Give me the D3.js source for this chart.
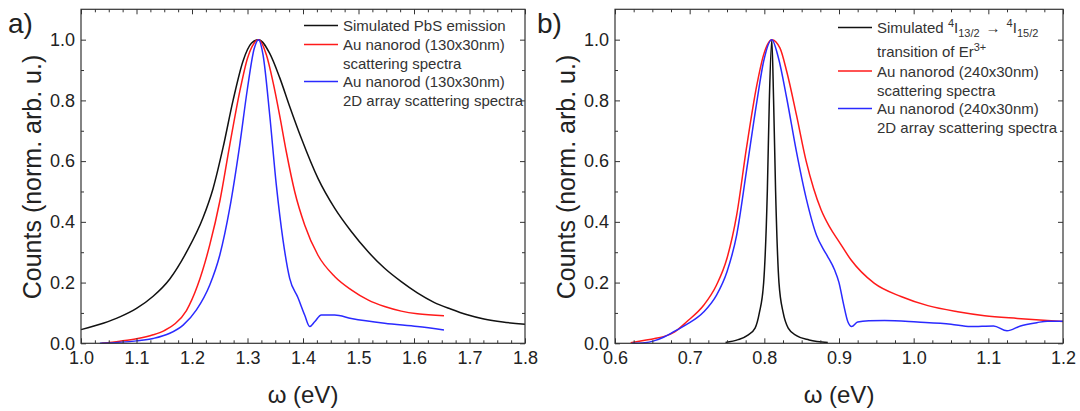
<!DOCTYPE html>
<html>
<head>
<meta charset="utf-8">
<script src="https://cdnjs.cloudflare.com/ajax/libs/d3/7.8.5/d3.min.js"></script>
<style>
	body { margin: 0; background: #fff; }
	svg { font-family: "Liberation Sans", Arial, sans-serif; }
	.axis path { display: none; }
	.axis line { stroke: #333; stroke-width: 1; }
	.axis text { font-size: 18px; fill: #222; }
	.legend text { font-size: 15px; fill: #333; }
</style>
</head>
<body>
<div id="container"></div>
<script>
// ---- panel a) : PbS emission vs 130x30nm rods ----
var pbsEmission = [[1.00,0.045],[1.04,0.066],[1.07,0.087],[1.10,0.115],[1.13,0.155],[1.16,0.212],
	[1.19,0.3],[1.22,0.414],[1.238,0.51],[1.256,0.645],[1.274,0.8],[1.292,0.93],[1.307,0.988],
	[1.32,1.0],[1.34,0.955],[1.358,0.875],[1.376,0.78],[1.397,0.675],[1.427,0.543],[1.457,0.445],
	[1.487,0.368],[1.517,0.302],[1.547,0.247],[1.577,0.203],[1.606,0.166],[1.636,0.135],[1.666,0.113],
	[1.696,0.094],[1.726,0.08],[1.76,0.07],[1.80,0.063]];
var rod130 = [[1.037,0.0],[1.07,0.007],[1.10,0.015],[1.13,0.028],[1.15,0.042],[1.17,0.065],[1.19,0.108],
	[1.21,0.19],[1.232,0.324],[1.25,0.467],[1.268,0.653],[1.286,0.829],[1.30,0.939],[1.316,0.997],
	[1.32,1.0],[1.334,0.95],[1.346,0.86],[1.358,0.75],[1.37,0.63],[1.385,0.5],[1.403,0.39],[1.427,0.29],
	[1.457,0.22],[1.487,0.176],[1.517,0.143],[1.547,0.121],[1.577,0.106],[1.606,0.097],[1.654,0.091]];
var rod130Array = [[1.034,0.0],[1.10,0.008],[1.13,0.016],[1.16,0.033],[1.184,0.06],[1.208,0.11],
	[1.232,0.192],[1.25,0.29],[1.268,0.445],[1.286,0.653],[1.30,0.84],[1.312,0.97],[1.32,1.0],
	[1.328,0.95],[1.34,0.752],[1.352,0.52],[1.364,0.34],[1.376,0.214],[1.391,0.15],[1.403,0.093],
	[1.412,0.055],[1.421,0.071],[1.433,0.093],[1.457,0.093],[1.487,0.082],[1.547,0.066],[1.606,0.055],
	[1.654,0.044]];

// ---- panel b) : Er3+ transition vs 240x30nm rods ----
var erEmission = [[0.748,0.003],[0.765,0.012],[0.778,0.027],[0.7876,0.05],[0.7933,0.1],[0.7991,0.2],
	[0.804,0.5],[0.8067,0.8],[0.81,1.0],[0.8124,0.8],[0.8151,0.5],[0.8196,0.2],[0.8253,0.1],[0.832,0.05],
	[0.843,0.025],[0.86,0.011],[0.885,0.003]];
var rod240 = [[0.621,0.002],[0.64,0.01],[0.652,0.015],[0.665,0.022],[0.68,0.038],[0.696,0.071],
	[0.719,0.126],[0.736,0.192],[0.75,0.28],[0.763,0.423],[0.776,0.642],[0.79,0.851],[0.799,0.95],
	[0.81,1.0],[0.821,0.972],[0.83,0.895],[0.843,0.752],[0.856,0.6],[0.866,0.51],[0.876,0.44],
	[0.887,0.385],[0.9,0.335],[0.916,0.275],[0.947,0.198],[0.983,0.154],[1.019,0.124],[1.059,0.104],
	[1.095,0.091],[1.139,0.082],[1.179,0.075],[1.2,0.072]];
var rod240Array = [[0.623,0.0],[0.64,0.002],[0.652,0.008],[0.665,0.02],[0.68,0.04],[0.696,0.062],
	[0.719,0.104],[0.736,0.159],[0.75,0.236],[0.763,0.357],[0.776,0.566],[0.79,0.796],[0.799,0.928],
	[0.81,1.0],[0.819,0.939],[0.83,0.807],[0.843,0.631],[0.856,0.478],[0.87,0.355],[0.879,0.31],
	[0.885,0.285],[0.894,0.242],[0.9,0.2],[0.906,0.13],[0.912,0.07],[0.917,0.055],[0.925,0.07],
	[0.94,0.074],[0.961,0.075],[1.005,0.07],[1.05,0.063],[1.076,0.055],[1.107,0.057],[1.125,0.041],
	[1.143,0.057],[1.165,0.068],[1.179,0.073],[1.2,0.073]];

// ticks
var xTicksA = [1.0,1.1,1.2,1.3,1.4,1.5,1.6,1.7,1.8];
var xTicksB = [0.6,0.7,0.8,0.9,1.0,1.1,1.2];
var yTicks = [0.0,0.2,0.4,0.6,0.8,1.0];
var yMinor = [0.1,0.3,0.5,0.7,0.9];

var plotTop = 9.3, plotH = 334;

var svg = d3.select("#container").append("svg")
	.attr("width", 1080)
	.attr("height", 411);

// minor x ticks every 0.025 (skipping the labelled ones)
function minorTicks(domain){
	var out = [];
	for (var v = domain[0]; v <= domain[1] + 1e-9; v += 0.025) {
		var r = Math.round(v * 1000) / 1000;
		if (Math.abs(r * 10 - Math.round(r * 10)) > 1e-6) out.push(r);
	}
	return out;
}

function drawPanel(cfg){
	var g = svg.append("g").attr("transform", "translate(" + cfg.left + "," + plotTop + ")");

	var x = d3.scaleLinear().domain(cfg.xDomain).range([0, cfg.width]);
	var y = d3.scaleLinear().domain([0, 1.1]).range([plotH, 0]);

	var line = d3.line()
		.x(function(d){ return x(d[0]); })
		.y(function(d){ return y(d[1]); })
		.curve(d3.curveMonotoneX);

	cfg.series.forEach(function(s){
		g.append("path")
			.datum(s.data)
			.attr("d", line)
			.attr("fill", "none")
			.attr("stroke", s.color)
			.attr("stroke-width", 1.5);
	});

	var xMinor = minorTicks(cfg.xDomain);
	var fmt = d3.format(".1f");

	// bottom
	g.append("g").attr("class", "axis").attr("transform", "translate(0," + plotH + ")")
		.call(d3.axisBottom(x).tickValues(cfg.xTicks).tickSize(-5).tickPadding(8).tickFormat(fmt));
	g.append("g").attr("class", "axis").attr("transform", "translate(0," + plotH + ")")
		.call(d3.axisBottom(x).tickValues(xMinor).tickSize(-3).tickFormat(""));
	// top
	g.append("g").attr("class", "axis")
		.call(d3.axisTop(x).tickValues(cfg.xTicks).tickSize(-5).tickFormat(""));
	g.append("g").attr("class", "axis")
		.call(d3.axisTop(x).tickValues(xMinor).tickSize(-3).tickFormat(""));
	// left
	g.append("g").attr("class", "axis")
		.call(d3.axisLeft(y).tickValues(yTicks).tickSize(-5).tickPadding(6).tickFormat(fmt));
	g.append("g").attr("class", "axis")
		.call(d3.axisLeft(y).tickValues(yMinor).tickSize(-3).tickFormat(""));
	// right
	g.append("g").attr("class", "axis").attr("transform", "translate(" + cfg.width + ",0)")
		.call(d3.axisRight(y).tickValues(yTicks).tickSize(-5).tickFormat(""));
	g.append("g").attr("class", "axis").attr("transform", "translate(" + cfg.width + ",0)")
		.call(d3.axisRight(y).tickValues(yMinor).tickSize(-3).tickFormat(""));

	// frame
	g.append("rect")
		.attr("width", cfg.width).attr("height", plotH)
		.attr("fill", "none").attr("stroke", "#333").attr("stroke-width", 1.2);

	// axis titles
	g.append("text")
		.attr("x", cfg.width / 2).attr("y", 403 - plotTop)
		.attr("text-anchor", "middle")
		.style("font-size", "24px").style("fill", "#222")
		.text("\u03c9 (eV)");
	g.append("text")
		.attr("transform", "translate(-40," + (177 - plotTop) + ") rotate(-90)")
		.attr("text-anchor", "middle")
		.style("font-size", "25px").style("fill", "#222")
		.text("Counts (norm. arb. u.)");

	// panel letter
	svg.append("text")
		.attr("x", cfg.labelX).attr("y", 33)
		.style("font-size", "28px").style("fill", "#222")
		.text(cfg.label);

	// legend
	var leg = svg.append("g").attr("class", "legend");
	cfg.legendLines.forEach(function(l){
		leg.append("line")
			.attr("x1", cfg.legendX).attr("x2", cfg.legendX + 34)
			.attr("y1", l.y).attr("y2", l.y)
			.attr("stroke", l.color).attr("stroke-width", 1.5);
	});
	cfg.legendRows.forEach(function(r){
		var t = leg.append("text").attr("x", cfg.legendX + 39).attr("y", r.y);
		r.parts.forEach(function(p){
			var sp = t.append("tspan").text(p.t);
			if (p.sup) sp.attr("dy", -6).style("font-size", "11px");
			if (p.sub) sp.attr("dy", 4).style("font-size", "11px");
			if (p.back) sp.attr("dy", p.back);
			if (p.dx) sp.attr("dx", p.dx);
		});
	});
}

drawPanel({
	left: 81, width: 444, xDomain: [1.0, 1.8], xTicks: xTicksA,
	label: "a)", labelX: 8,
	series: [
		{data: pbsEmission, color: "#111"},
		{data: rod130, color: "#ff1a1a"},
		{data: rod130Array, color: "#2a2aff"}
	],
	legendX: 304,
	legendLines: [{y: 25.5, color: "#111"}, {y: 44.5, color: "#ff1a1a"}, {y: 81.5, color: "#2a2aff"}],
	legendRows: [
		{y: 31, parts: [{t: "Simulated PbS emission"}]},
		{y: 50, parts: [{t: "Au nanorod (130x30nm)"}]},
		{y: 68.5, parts: [{t: "scattering spectra"}]},
		{y: 87, parts: [{t: "Au nanorod (130x30nm)"}]},
		{y: 105.5, parts: [{t: "2D array scattering spectra"}]}
	]
});

drawPanel({
	left: 615, width: 448, xDomain: [0.6, 1.2], xTicks: xTicksB,
	label: "b)", labelX: 537,
	series: [
		{data: erEmission, color: "#111"},
		{data: rod240, color: "#ff1a1a"},
		{data: rod240Array, color: "#2a2aff"}
	],
	legendX: 838,
	legendLines: [{y: 27.5, color: "#111"}, {y: 71, color: "#ff1a1a"}, {y: 108.5, color: "#2a2aff"}],
	legendRows: [
		{y: 32.5, parts: [{t: "Simulated "}, {t: "4", sup: true}, {t: "I", back: 6},
			{t: "13/2", sub: true}, {t: "\u2192", back: -4, dx: 6}, {t: "4", sup: true, dx: 6},
			{t: "I", back: 6}, {t: "15/2", sub: true}]},
		{y: 56.5, parts: [{t: "transition of Er"}, {t: "3+", sup: true}]},
		{y: 76.5, parts: [{t: "Au nanorod (240x30nm)"}]},
		{y: 95.5, parts: [{t: "scattering spectra"}]},
		{y: 114, parts: [{t: "Au nanorod (240x30nm)"}]},
		{y: 132.5, parts: [{t: "2D array scattering spectra"}]}
	]
});
</script>
</body>
</html>
